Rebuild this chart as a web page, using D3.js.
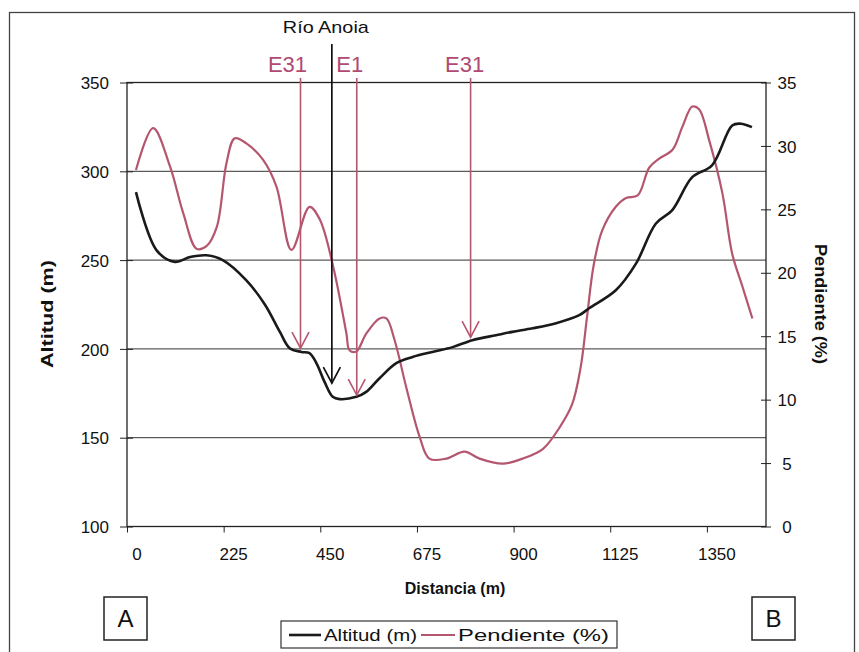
<!DOCTYPE html>
<html><head><meta charset="utf-8">
<script src="https://cdn.jsdelivr.net/npm/d3@7"></script>
<style>
body{margin:0;background:#fff;}
text{font-family:"Liberation Sans",Arial,sans-serif;}
</style>
</head><body>
<svg id="c" width="859" height="652"></svg>
<script>
// ---- data ----
const distAltitud = [0,48,91,126,164,202,257,300,335,358,385,404,420,439,458,474,513,536,567,606,644,690,737,783,838,876,923,978,1032,1055,1117,1164,1210,1248,1295,1341,1388,1408,1434];
const altitud     = [288.3,255.5,249,251.7,252.7,250,238.6,225,209.6,200.4,198.3,197.6,192,181.4,173,171.7,173,175.8,183.5,192,195.5,198.3,201,204.9,207.7,209.6,211.6,214.5,219,222.9,233,248,270.5,278,296.7,303.3,325.8,326.8,324.9];
const distPendiente = [0,40,79,110,141,164,188,211,230,257,296,327,362,404,428,459,490,497,513,536,567,583,602,629,660,683,722,765,800,854,900,947,986,1015,1035,1050,1065,1085,1117,1141,1168,1195,1218,1249,1272,1295,1311,1334,1365,1388,1412,1435];
const pendiente     = [28.1,31.4,28.4,24.7,21.9,22.1,23.6,28.7,30.6,30.2,28.9,26.8,21.8,25.2,24.2,20.5,15.2,13.9,13.8,15.2,16.4,16.4,14.7,11.0,7.1,5.35,5.35,5.9,5.35,4.95,5.35,6.1,7.8,9.6,12.5,16.5,20.5,23.3,25.2,25.9,26.1,28.3,29.0,29.7,31.5,33.1,32.9,30.5,26.3,21.5,18.9,16.4];
const xTickLabels = [0,225,450,675,900,1125,1350];
const altTicks  = [100,150,200,250,300,350];
const pendTicks = [0,5,10,15,20,25,30,35];
const seriesNames = ["Altitud (m)","Pendiente (%)"];
const markerLabels = ["E31","E1","E31"];
const markerDist   = [383, 514, 779];
const markerAlt    = [200.4, 174, 206.6];
const riverLabel = "Río Anoia";
const riverDist = 456, riverAlt = 180.7;

// ---- layout ----
const markerLabelShift = [-13, -7, -6];
const PINK = "#b5566f", PINK_T = "#b04a72";
const L = 127, R = 766, T = 82.5, B = 526.5;
const svg = d3.select("#c");
const x = d3.scaleLinear().domain([-20.9, 1466.7]).range([L, R]);
const yA = d3.scaleLinear().domain([100,350]).range([B, T]);
const yP = d3.scaleLinear().domain([0,35]).range([B, T]);

// outer frame
svg.append("rect").attr("x",9.5).attr("y",12.5).attr("width",845).attr("height",680)
  .attr("fill","none").attr("stroke","#444").attr("stroke-width",1.3);

// gridlines
svg.append("g").selectAll("line").data(altTicks.filter(v=>v>100&&v<350)).join("line")
  .attr("x1",L).attr("x2",R).attr("y1",d=>yA(d)).attr("y2",d=>yA(d))
  .attr("stroke","#333").attr("stroke-width",1);
// plot border
svg.append("rect").attr("x",L).attr("y",T).attr("width",R-L).attr("height",B-T)
  .attr("fill","none").attr("stroke","#222").attr("stroke-width",1.3);

// left axis
const axL = svg.append("g").attr("transform",`translate(${L},0)`)
  .call(d3.axisLeft(yA).tickValues(altTicks).tickSize(7).tickPadding(10));
axL.select(".domain").remove();
axL.selectAll("line").attr("x2",-7).attr("x1",6).attr("stroke","#222");
axL.selectAll("text").attr("font-size",17).attr("fill","#111").attr("font-family","Liberation Sans, Arial, sans-serif").attr("dy","0.36em").attr("x",-18);

// right axis
const axR = svg.append("g").attr("transform",`translate(${R},0)`)
  .call(d3.axisRight(yP).tickValues(pendTicks).tickSize(6).tickPadding(12));
axR.select(".domain").remove();
axR.selectAll("line").attr("x1",-5).attr("x2",5).attr("stroke","#222");
axR.selectAll("text").attr("font-size",17).attr("fill","#111").attr("text-anchor","middle").attr("x",21)
  .attr("font-family","Liberation Sans, Arial, sans-serif").attr("dy","0.36em");

// bottom axis: tick marks between categories, labels at category centres
const tickMarks = xTickLabels.map(v=>v-20.9);
const axB = svg.append("g").attr("transform",`translate(0,${B})`)
  .call(d3.axisBottom(x).tickValues(tickMarks).tickSize(6).tickFormat(""));
axB.select(".domain").remove();
axB.selectAll("line").attr("stroke","#222");
svg.append("g").selectAll("text").data(xTickLabels).join("text")
  .attr("x",d=>x(d)+1).attr("y",560).attr("text-anchor","middle")
  .attr("font-size",17).attr("fill","#111").text(d=>d);

// axis titles
svg.append("text").attr("transform","translate(53,314) rotate(-90)").attr("text-anchor","middle")
  .attr("font-size",16).attr("font-weight","bold").attr("fill","#111")
  .attr("textLength",108).attr("lengthAdjust","spacingAndGlyphs").text("Altitud (m)");
svg.append("text").attr("transform","translate(815,304) rotate(90)").attr("text-anchor","middle")
  .attr("font-size",16).attr("font-weight","bold").attr("fill","#111")
  .attr("textLength",120).attr("lengthAdjust","spacingAndGlyphs").text("Pendiente (%)");
svg.append("text").attr("x",455).attr("y",594).attr("text-anchor","middle")
  .attr("font-size",16).attr("font-weight","bold").attr("fill","#111").text("Distancia (m)");

// lines
const lineA = d3.line().x((d,i)=>x(distAltitud[i])).y(d=>yA(d)).curve(d3.curveCatmullRom.alpha(0.5));
const lineP = d3.line().x((d,i)=>x(distPendiente[i])).y(d=>yP(d)).curve(d3.curveCatmullRom.alpha(0.5));
svg.append("path").datum(pendiente).attr("d",lineP).attr("fill","none").attr("stroke",PINK).attr("stroke-width",2.2);
svg.append("path").datum(altitud).attr("d",lineA).attr("fill","none").attr("stroke","#1a1a1a").attr("stroke-width",2.6);

// annotation arrows
function arrow(xp, y0, y1, color, w){
  const g = svg.append("g").attr("stroke",color).attr("fill","none").attr("stroke-width",w);
  g.append("line").attr("x1",xp).attr("x2",xp).attr("y1",y0).attr("y2",y1);
  g.append("path").attr("d",`M${xp-8.5},${y1-16}L${xp},${y1}L${xp+8.5},${y1-16}`);
}
markerLabels.forEach((lab,i)=>{
  const xp = x(markerDist[i]);
  arrow(xp, 78, yA(markerAlt[i]), PINK, 1.6);
  svg.append("text").attr("x",xp+markerLabelShift[i]).attr("y",72).attr("text-anchor","middle")
    .attr("font-size",22).attr("fill",PINK_T).text(lab);
});
{
  const xr = x(riverDist);
  arrow(xr, 44, yA(riverAlt), "#111", 1.7);
  svg.append("text").attr("x",xr-6).attr("y",33).attr("text-anchor","middle")
    .attr("font-size",17).attr("fill","#111")
    .attr("textLength",86).attr("lengthAdjust","spacingAndGlyphs").text(riverLabel);
}

// legend
const lg = svg.append("g");
lg.append("rect").attr("x",281).attr("y",621).attr("width",336).attr("height",27)
  .attr("fill","#fff").attr("stroke","#333").attr("stroke-width",1.2);
lg.append("line").attr("x1",289).attr("x2",321).attr("y1",635).attr("y2",635).attr("stroke","#1a1a1a").attr("stroke-width",2.6);
lg.append("text").attr("x",324).attr("y",641).attr("font-size",17).attr("fill","#111")
  .attr("textLength",93).attr("lengthAdjust","spacingAndGlyphs").text(seriesNames[0]);
lg.append("line").attr("x1",421).attr("x2",455).attr("y1",635).attr("y2",635).attr("stroke",PINK).attr("stroke-width",2.2);
lg.append("text").attr("x",458).attr("y",641).attr("font-size",17).attr("fill","#111")
  .attr("textLength",151).attr("lengthAdjust","spacingAndGlyphs").text(seriesNames[1]);

// A / B boxes
[["A",104],["B",752]].forEach(([t,bx])=>{
  svg.append("rect").attr("x",bx).attr("y",597).attr("width",43).attr("height",43)
    .attr("fill","none").attr("stroke","#222").attr("stroke-width",1.5);
  svg.append("text").attr("x",bx+21.5).attr("y",627).attr("text-anchor","middle")
    .attr("font-size",24).attr("fill","#111").text(t);
});
</script>
</body></html>
